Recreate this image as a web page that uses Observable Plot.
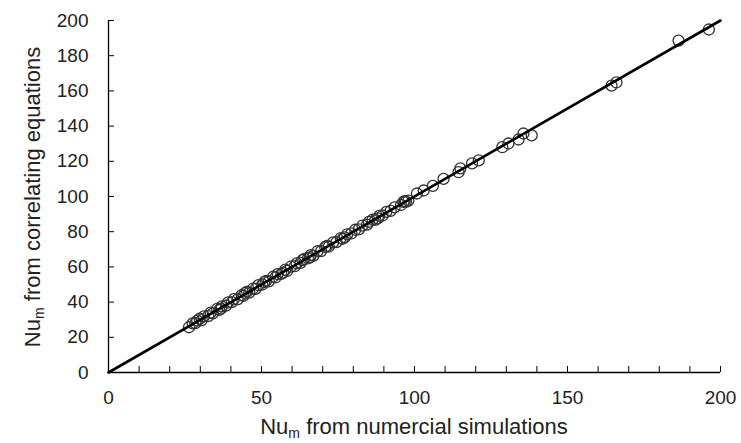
<!DOCTYPE html>
<html>
<head>
<meta charset="utf-8">
<script src="https://cdn.jsdelivr.net/npm/d3@7"></script>
<script src="https://cdn.jsdelivr.net/npm/@observablehq/plot@0.6"></script>
<style>
  body { margin: 0; background: #fff; }
  #chart svg { display: block; }
</style>
</head>
<body>
<div id="chart"></div>
<script>
// Nu_m from numerical simulations (x) vs from correlating equations (y)
const simX = [26.3, 27.5, 28.4, 29.8, 30.5, 31.2, 32.6, 33.4, 34.1, 35.5, 36.2, 37.0, 38.4, 39.1, 40.3, 41.0, 42.2, 43.5, 44.1, 45.3, 46.0, 47.2, 48.1, 49.0, 50.3, 51.5, 52.4, 53.8, 54.6, 55.3, 56.5, 57.8, 58.4, 59.6, 60.9, 61.5, 62.8, 64.0, 65.2, 66.1, 67.0, 68.3, 69.5, 70.8, 72.0, 73.4, 74.5, 75.9, 77.2, 78.0, 79.4, 80.6, 81.8, 83.0, 84.5, 86.3, 87.2, 88.5, 89.6, 90.8, 92.2, 93.5, 95.6, 96.4, 97.2, 98.0, 100.8, 103.0, 106.0, 109.5, 114.4, 115.0, 118.8, 121.0, 128.7, 130.7, 134.0, 135.6, 138.3, 164.4, 166.0, 186.3, 196.2, 29.0, 36.8, 44.7, 50.9, 57.1, 63.4, 65.8, 71.4, 76.5, 85.1, 88.0, 96.8];
const corrY = [25.7, 27.9, 28.0, 30.6, 29.8, 31.9, 32.0, 34.0, 33.6, 36.1, 35.5, 37.6, 38.0, 39.8, 40.0, 41.7, 41.6, 44.0, 43.5, 45.9, 45.4, 47.6, 47.5, 49.6, 50.0, 52.0, 51.8, 54.4, 54.0, 55.9, 56.0, 58.4, 57.7, 60.1, 60.4, 62.0, 62.3, 64.6, 64.8, 66.7, 66.4, 68.9, 69.0, 71.3, 71.6, 73.9, 74.1, 76.4, 76.8, 78.5, 79.0, 81.1, 81.3, 83.5, 84.0, 86.8, 86.7, 89.0, 89.2, 91.3, 91.8, 93.8, 95.2, 96.9, 97.0, 97.7, 101.7, 103.4, 106.0, 110.0, 113.8, 116.0, 118.8, 120.5, 128.0, 130.1, 132.4, 135.8, 134.7, 163.0, 164.8, 188.6, 194.9, 29.5, 36.3, 45.2, 51.4, 56.8, 63.9, 65.4, 71.9, 76.0, 85.6, 87.6, 97.4];
const identityLine = [0, 200];
const yTicks = [0, 20, 40, 60, 80, 100, 120, 140, 160, 180, 200];
const xLabelTicks = [0, 50, 100, 150, 200];
const xMinorTicks = d3.range(0, 201, 10);

const points = simX.map((x, i) => ({x, y: corrY[i]}));

const W = 741, H = 443;
const font = "Liberation Sans, Arial, sans-serif";

const plot = Plot.plot({
  width: W,
  height: H,
  marginLeft: 108,
  marginRight: 21,
  marginTop: 20,
  marginBottom: 71,
  style: {fontFamily: font, fontSize: "19px", color: "#222", background: "#fff"},
  x: {domain: [0, 200], label: null},
  y: {domain: [0, 200], label: null},
  marks: [
    Plot.axisX({ticks: xLabelTicks, tickSize: 0, tickPadding: 18, tickFormat: d => d, fontSize: 19, fill: "#222"}),
    Plot.axisX({ticks: xMinorTicks, tickSize: -6, tickFormat: () => "", stroke: "#000"}),
    Plot.axisY({ticks: yTicks, tickSize: 0, tickPadding: 20, tickFormat: d => d, fontSize: 19, fill: "#222"}),
    Plot.axisY({ticks: yTicks, tickSize: -6, tickFormat: () => "", stroke: "#000"}),
    Plot.ruleX([0], {stroke: "#000", strokeWidth: 1.3}),
    Plot.ruleY([0], {stroke: "#000", strokeWidth: 1.3}),
    Plot.dot(points, {x: "x", y: "y", r: 5.5, stroke: "#333", strokeWidth: 1.3, fill: "none"}),
    Plot.line(identityLine, {x: d => d, y: d => d, stroke: "#000", strokeWidth: 2.6})
  ]
});

document.getElementById("chart").appendChild(plot);

// Axis titles with subscript
const svg = d3.select(plot);
const xt = svg.append("text")
  .attr("x", 414).attr("y", 434)
  .attr("text-anchor", "middle")
  .attr("font-family", font).attr("font-size", 22).attr("fill", "#222");
xt.append("tspan").text("Nu");
xt.append("tspan").attr("font-size", 14).attr("dy", 4).text("m");
xt.append("tspan").attr("dy", -4).text(" from numercial simulations");

const yt = svg.append("text")
  .attr("transform", "translate(40,197) rotate(-90)")
  .attr("text-anchor", "middle")
  .attr("font-family", font).attr("font-size", 22).attr("fill", "#222");
yt.append("tspan").text("Nu");
yt.append("tspan").attr("font-size", 14).attr("dy", 4).text("m");
yt.append("tspan").attr("dy", -4).text(" from correlating equations");
</script>
</body>
</html>
